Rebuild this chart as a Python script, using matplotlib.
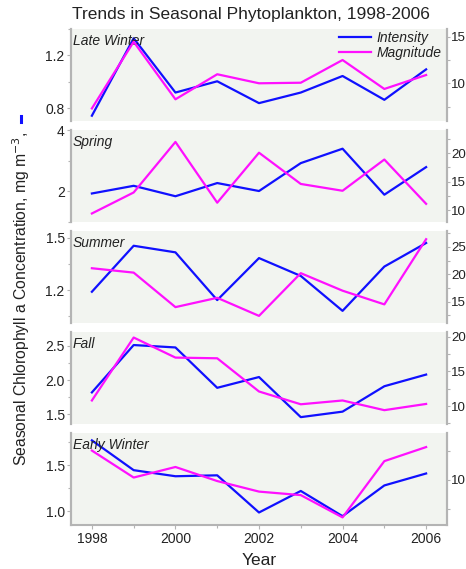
import numpy as np
import matplotlib
matplotlib.use("Agg")
import matplotlib.pyplot as plt
from matplotlib.lines import Line2D
from matplotlib.ticker import MultipleLocator

plt.rcParams['font.family'] = ['Liberation Sans', 'DejaVu Sans']

years = [1998, 1999, 2000, 2001, 2002, 2003, 2004, 2005, 2006]
seasons = ['Late Winter', 'Spring', 'Summer', 'Fall', 'Early Winter']

# chlorophyll intensity (left axis)
late_winter_int = [0.745, 1.33, 0.92, 1.005, 0.84, 0.92, 1.045, 0.865, 1.095]
spring_int = [1.93, 2.18, 1.84, 2.27, 2.01, 2.92, 3.39, 1.89, 2.79]
summer_int = [1.19, 1.455, 1.417, 1.142, 1.384, 1.281, 1.08, 1.335, 1.471]
fall_int = [1.82, 2.51, 2.475, 1.887, 2.044, 1.46, 1.54, 1.91, 2.08]
early_winter_int = [1.77, 1.446, 1.38, 1.39, 0.986, 1.22, 0.946, 1.28, 1.41]

# magnitude (right axis)
late_winter_mag = [7.3, 14.46, 8.28, 10.97, 10.0, 10.06, 12.5, 9.39, 10.89]
spring_mag = [9.4, 13.1, 22.0, 11.3, 20.1, 14.6, 13.4, 18.9, 11.1]
summer_mag = [21.1, 20.3, 14.0, 15.7, 12.4, 20.2, 17.0, 14.5, 26.4]
fall_mag = [10.8, 19.9, 17.0, 16.9, 12.1, 10.25, 10.8, 9.4, 10.3]
early_winter_mag = [12.5, 10.2, 11.1, 9.9, 9.0, 8.7, 6.8, 11.6, 12.8]

intensity = [late_winter_int, spring_int, summer_int, fall_int, early_winter_int]
magnitude = [late_winter_mag, spring_mag, summer_mag, fall_mag, early_winter_mag]

# axis ranges / ticks per panel
left_lims = [(0.705, 1.40), (1.0, 4.0), (1.01, 1.54), (1.36, 2.70), (0.85, 1.85)]
left_major = [0.4, 2.0, 0.3, 0.5, 0.5]
right_lims = [(5.95, 15.83), (7.9, 24.1), (11.1, 27.9), (7.4, 20.7), (6.15, 14.0)]

bg = '#f2f4f0'
spine_col = '#b4b4b4'
txt_col = '#222222'
blue = '#1010ff'
pink = '#ff10ff'
fs = 10

fig = plt.figure(figsize=(4.66, 5.69), dpi=100)
W, H = 466.0, 569.0
left = 71 / W
width = (447 - 71) / W
tops = [29, 130, 231, 332, 433]
ph = 92

for i, season in enumerate(seasons):
    ax = fig.add_axes([left, 1 - (tops[i] + ph) / H, width, ph / H])
    ax.set_facecolor(bg)
    ax.plot(years, intensity[i], color=blue, lw=1.6, label='Intensity')
    ax.set_xlim(1997.5, 2006.5)
    ax.set_ylim(*left_lims[i])
    ax.yaxis.set_major_locator(MultipleLocator(left_major[i]))
    ax.yaxis.set_minor_locator(MultipleLocator(left_major[i] / 2))

    ax2 = ax.twinx()
    ax2.plot(years, magnitude[i], color=pink, lw=1.6, label='Magnitude')
    ax2.set_ylim(*right_lims[i])
    ax2.yaxis.set_major_locator(MultipleLocator(5))
    ax2.yaxis.set_minor_locator(MultipleLocator(2.5))

    for a in (ax, ax2):
        for s in ('top', 'bottom'):
            a.spines[s].set_visible(False)
        for s in ('left', 'right'):
            a.spines[s].set_color(spine_col)
            a.spines[s].set_linewidth(1.5)
        a.tick_params(axis='y', which='both', colors=spine_col, labelcolor=txt_col,
                      labelsize=fs, width=0.8, pad=1.5)
        a.tick_params(axis='y', which='major', length=3)
        a.tick_params(axis='y', which='minor', length=2)
    # right labels are tight against the figure edge
    ax2.tick_params(axis='y', which='major', pad=0.3, length=2.5, labelsize=9.6)

    ax.text(0.005, 0.95, season, transform=ax.transAxes, fontsize=fs,
            style='italic', color=txt_col, ha='left', va='top')

    if i == len(seasons) - 1:
        ax.spines['bottom'].set_visible(True)
        ax.spines['bottom'].set_color(spine_col)
        ax.spines['bottom'].set_linewidth(1.5)
        ax.xaxis.set_major_locator(MultipleLocator(2))
        ax.xaxis.set_minor_locator(MultipleLocator(1))
        ax.tick_params(axis='x', which='both', colors=spine_col, labelcolor=txt_col,
                       labelsize=fs, width=0.8, pad=2)
        ax.tick_params(axis='x', which='major', length=3)
        ax.tick_params(axis='x', which='minor', length=2)
        ax.set_xlabel('Year', fontsize=12.5, color=txt_col, labelpad=5)
    else:
        ax.tick_params(axis='x', which='both', bottom=False, labelbottom=False)

    if i == 0:
        handles = [Line2D([], [], color=blue, lw=1.6), Line2D([], [], color=pink, lw=1.6)]
        leg = ax2.legend(handles, ['Intensity', 'Magnitude'], loc='upper right',
                         bbox_to_anchor=(1.0, 1.04), frameon=False, fontsize=fs,
                         handlelength=2.3, handletextpad=0.4, borderaxespad=0.0,
                         labelspacing=0.1)
        for t in leg.get_texts():
            t.set_style('italic')
            t.set_color(txt_col)

fig.text(251 / W, 1 - 14.5 / H, 'Trends in Seasonal Phytoplankton, 1998-2006',
         ha='center', va='center', fontsize=12.5, color=txt_col)
fig.text(21 / W, 1 - 299 / H, 'Seasonal Chlorophyll a Concentration, mg m$^{-3}$,',
         rotation=90, ha='center', va='center', fontsize=11.3, color=txt_col)
fig.add_artist(Line2D([21 / W, 21 / W], [1 - 116 / H, 1 - 122 / H], color=blue,
                      lw=2.2, transform=fig.transFigure))

fig.savefig('out.png', dpi=100)
